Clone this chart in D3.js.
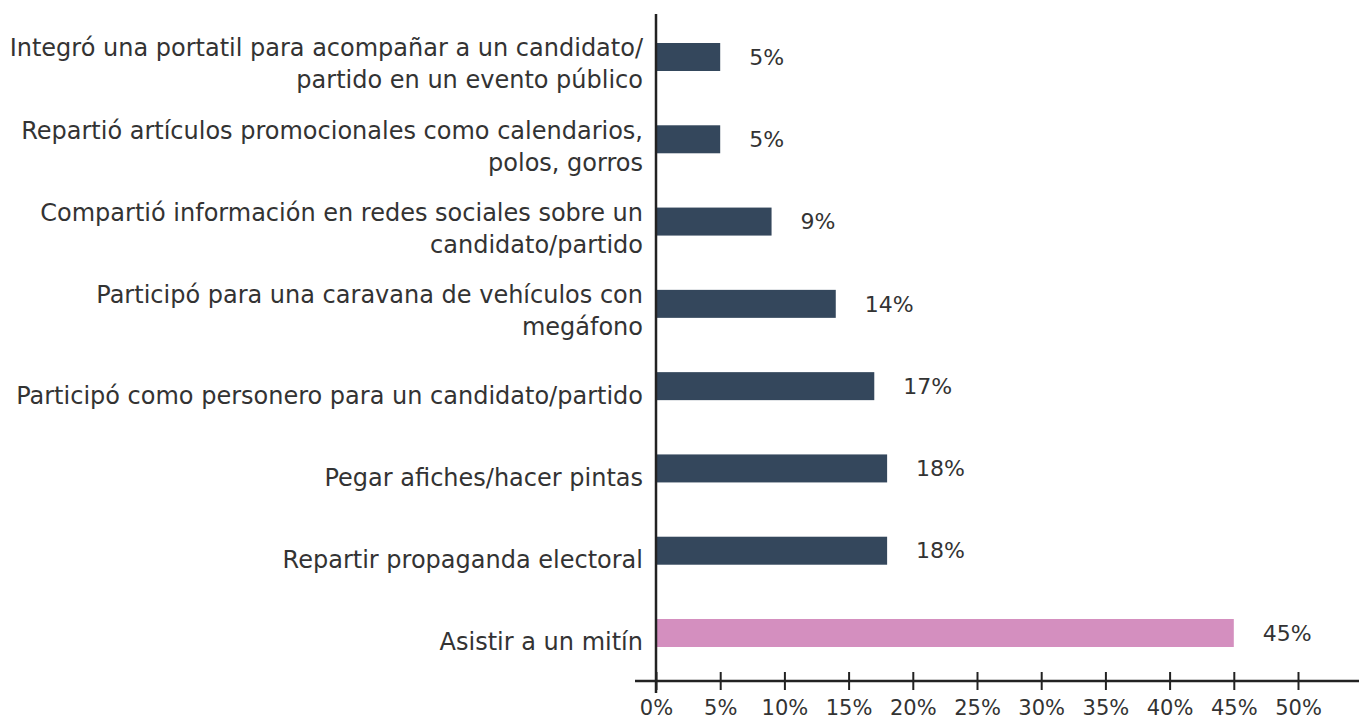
<!DOCTYPE html>
<html>
<head>
<meta charset="utf-8">
<script src="https://cdn.jsdelivr.net/npm/d3@7"></script>
<style>
  body { margin: 0; background: #fff; }
  text { font-family: 'DejaVu Sans', sans-serif; fill: #333; }
</style>
</head>
<body>
<div id="viz"></div>
<script>
const width = 1359;
const height = 720;
const barHeight = 28;

const categories = [
  'Integró una portatil para acompañar a un candidato/\npartido en un evento público',
  'Repartió artículos promocionales como calendarios,\npolos, gorros',
  'Compartió información en redes sociales sobre un\ncandidato/partido',
  'Participó para una caravana de vehículos con\nmegáfono',
  'Participó como personero para un candidato/partido',
  'Pegar afiches/hacer pintas',
  'Repartir propaganda electoral',
  'Asistir a un mitín'
];
const values = [5, 5, 9, 14, 17, 18, 18, 45];
const valueLabels = ['5%', '5%', '9%', '14%', '17%', '18%', '18%', '45%'];
const tickValues = [0, 5, 10, 15, 20, 25, 30, 35, 40, 45, 50];

const darkColor = '#34475c';
const pinkColor = '#d48fbf';

const svg = d3.create('svg')
  .attr('width', width)
  .attr('height', height);

const x = d3.scaleLinear()
  .domain([0, 50])
  .range([656, 1298]);

const y = d3.scalePoint()
  .domain(d3.range(categories.length))
  .range([57, 633]);

// bars
svg.selectAll('.bar')
  .data(values)
  .enter()
  .append('rect')
    .attr('class', 'bar')
    .attr('x', x(0))
    .attr('y', (d, i) => y(i) - barHeight / 2)
    .attr('width', d => x(d) - x(0))
    .attr('height', barHeight)
    .attr('fill', (d, i) => i === values.length - 1 ? pinkColor : darkColor);

// value labels
svg.selectAll('.value')
  .data(values)
  .enter()
  .append('text')
    .attr('class', 'value')
    .attr('x', d => x(d) + 29)
    .attr('y', (d, i) => y(i))
    .attr('dy', '0.35em')
    .style('font-size', '22px')
    .text((d, i) => valueLabels[i]);

// category labels, wrapped on \n
const labels = svg.selectAll('.cat')
  .data(categories)
  .enter()
  .append('text')
    .attr('class', 'cat')
    .attr('text-anchor', 'end')
    .style('font-size', '24px');

labels.each(function(d, i) {
  const lines = d.split('\n');
  const top = lines.length === 1 ? y(i) + 9 : y(i) - 9;
  lines.forEach((line, k) => {
    d3.select(this).append('tspan')
      .attr('x', 643)
      .attr('y', top + k * 32)
      .attr('dy', '0.35em')
      .text(line);
  });
});

// y axis line
svg.append('line')
  .attr('x1', x(0)).attr('x2', x(0))
  .attr('y1', 14).attr('y2', 693)
  .attr('stroke', '#222')
  .attr('stroke-width', 2.5);

// x axis
const xaxis = svg.append('g')
  .attr('transform', 'translate(0, 681)')
  .call(d3.axisBottom(x)
    .tickValues(tickValues)
    .tickSize(0)
    .tickFormat(d => d + '%'));

xaxis.select('.domain').remove();

xaxis.append('line')
  .attr('x1', 635).attr('x2', width)
  .attr('stroke', '#222')
  .attr('stroke-width', 2.5);

xaxis.selectAll('.tick').append('line')
  .attr('y1', -9).attr('y2', 9)
  .attr('stroke', '#222')
  .attr('stroke-width', 2);

xaxis.selectAll('.tick text')
  .attr('y', 27)
  .attr('dy', '0.35em')
  .style('font-size', '21px')
  .style('font-family', "'DejaVu Sans', sans-serif")
  .attr('fill', '#333');

d3.select('#viz').node().appendChild(svg.node());
</script>
</body>
</html>
